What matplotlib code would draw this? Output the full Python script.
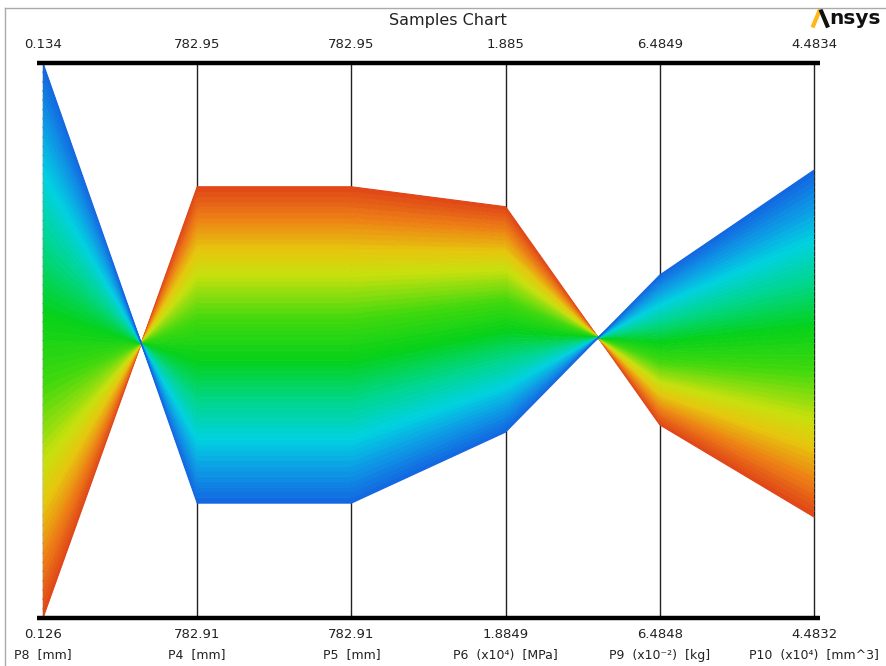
import numpy as np
import matplotlib
matplotlib.use("Agg")
import matplotlib.pyplot as plt
from matplotlib.colors import LinearSegmentedColormap
from matplotlib.lines import Line2D

# ---------------- data ----------------
axis_names = ["P8  [mm]", "P4  [mm]", "P5  [mm]", "P6  (x10\u2074)  [MPa]",
              "P9  (x10\u207b\u00b2)  [kg]", "P10  (x10\u2074)  [mm^3]"]
axis_min = [0.126, 782.91, 782.91, 1.8849, 6.4848, 4.4832]
axis_max = [0.134, 782.95, 782.95, 1.8850, 6.4849, 4.4834]
min_labels = ["0.126", "782.91", "782.91", "1.8849", "6.4848", "4.4832"]
max_labels = ["0.134", "782.95", "782.95", "1.885", "6.4849", "4.4834"]

p8 = [0.12600, 0.12613, 0.12627, 0.12640, 0.12653, 0.12667, 0.12680, 0.12693, 0.12707, 0.12720,
      0.12733, 0.12747, 0.12760, 0.12773, 0.12787, 0.12800, 0.12813, 0.12827, 0.12840, 0.12853,
      0.12867, 0.12880, 0.12893, 0.12907, 0.12920, 0.12933, 0.12947, 0.12960, 0.12973, 0.12987,
      0.13000, 0.13013, 0.13027, 0.13040, 0.13053, 0.13067, 0.13080, 0.13093, 0.13107, 0.13120,
      0.13133, 0.13147, 0.13160, 0.13173, 0.13187, 0.13200, 0.13213, 0.13227, 0.13240, 0.13253,
      0.13267, 0.13280, 0.13293, 0.13307, 0.13320, 0.13333, 0.13347, 0.13360, 0.13373, 0.13387,
      0.13400]
p4 = [782.94108, 782.94070, 782.94032, 782.93994, 782.93956, 782.93918, 782.93880, 782.93842,
      782.93804, 782.93766, 782.93728, 782.93690, 782.93652, 782.93614, 782.93576, 782.93538,
      782.93500, 782.93462, 782.93424, 782.93386, 782.93348, 782.93310, 782.93272, 782.93234,
      782.93196, 782.93158, 782.93120, 782.93082, 782.93044, 782.93006, 782.92968, 782.92930,
      782.92892, 782.92854, 782.92816, 782.92778, 782.92740, 782.92702, 782.92664, 782.92626,
      782.92588, 782.92550, 782.92512, 782.92474, 782.92436, 782.92398, 782.92360, 782.92322,
      782.92284, 782.92246, 782.92208, 782.92170, 782.92132, 782.92094, 782.92056, 782.92018,
      782.91980, 782.91942, 782.91904, 782.91866, 782.91828]
p5 = [782.94108, 782.94070, 782.94032, 782.93994, 782.93956, 782.93918, 782.93880, 782.93842,
      782.93804, 782.93766, 782.93728, 782.93690, 782.93652, 782.93614, 782.93576, 782.93538,
      782.93500, 782.93462, 782.93424, 782.93386, 782.93348, 782.93310, 782.93272, 782.93234,
      782.93196, 782.93158, 782.93120, 782.93082, 782.93044, 782.93006, 782.92968, 782.92930,
      782.92892, 782.92854, 782.92816, 782.92778, 782.92740, 782.92702, 782.92664, 782.92626,
      782.92588, 782.92550, 782.92512, 782.92474, 782.92436, 782.92398, 782.92360, 782.92322,
      782.92284, 782.92246, 782.92208, 782.92170, 782.92132, 782.92094, 782.92056, 782.92018,
      782.91980, 782.91942, 782.91904, 782.91866, 782.91828]
p6 = [1.8849741, 1.8849734, 1.8849727, 1.8849721, 1.8849714, 1.8849707, 1.8849700, 1.8849694,
      1.8849687, 1.8849680, 1.8849673, 1.8849667, 1.8849660, 1.8849653, 1.8849646, 1.8849640,
      1.8849633, 1.8849626, 1.8849619, 1.8849612, 1.8849606, 1.8849599, 1.8849592, 1.8849585,
      1.8849579, 1.8849572, 1.8849565, 1.8849558, 1.8849552, 1.8849545, 1.8849538, 1.8849531,
      1.8849525, 1.8849518, 1.8849511, 1.8849504, 1.8849497, 1.8849491, 1.8849484, 1.8849477,
      1.8849470, 1.8849464, 1.8849457, 1.8849450, 1.8849443, 1.8849437, 1.8849430, 1.8849423,
      1.8849416, 1.8849409, 1.8849403, 1.8849396, 1.8849389, 1.8849382, 1.8849376, 1.8849369,
      1.8849362, 1.8849355, 1.8849349, 1.8849342, 1.8849335]
p9 = [6.4848348, 6.4848353, 6.4848357, 6.4848362, 6.4848366, 6.4848371, 6.4848375, 6.4848380,
      6.4848384, 6.4848389, 6.4848393, 6.4848398, 6.4848402, 6.4848407, 6.4848411, 6.4848416,
      6.4848420, 6.4848425, 6.4848429, 6.4848434, 6.4848438, 6.4848443, 6.4848447, 6.4848452,
      6.4848456, 6.4848461, 6.4848465, 6.4848470, 6.4848474, 6.4848479, 6.4848483, 6.4848488,
      6.4848492, 6.4848497, 6.4848501, 6.4848506, 6.4848510, 6.4848515, 6.4848519, 6.4848524,
      6.4848528, 6.4848533, 6.4848537, 6.4848542, 6.4848546, 6.4848551, 6.4848555, 6.4848560,
      6.4848564, 6.4848569, 6.4848573, 6.4848578, 6.4848582, 6.4848587, 6.4848591, 6.4848596,
      6.4848600, 6.4848605, 6.4848609, 6.4848614, 6.4848618]
p10 = [4.4832364, 4.4832385, 4.4832406, 4.4832427, 4.4832447, 4.4832468, 4.4832489, 4.4832510,
       4.4832531, 4.4832552, 4.4832572, 4.4832593, 4.4832614, 4.4832635, 4.4832656, 4.4832677,
       4.4832697, 4.4832718, 4.4832739, 4.4832760, 4.4832781, 4.4832802, 4.4832822, 4.4832843,
       4.4832864, 4.4832885, 4.4832906, 4.4832927, 4.4832947, 4.4832968, 4.4832989, 4.4833010,
       4.4833031, 4.4833052, 4.4833072, 4.4833093, 4.4833114, 4.4833135, 4.4833156, 4.4833177,
       4.4833197, 4.4833218, 4.4833239, 4.4833260, 4.4833281, 4.4833302, 4.4833322, 4.4833343,
       4.4833364, 4.4833385, 4.4833406, 4.4833427, 4.4833447, 4.4833468, 4.4833489, 4.4833510,
       4.4833531, 4.4833552, 4.4833572, 4.4833593, 4.4833614]

# ---------------- styling ----------------
cmap = LinearSegmentedColormap.from_list("samples", [
    (0.00, (0.88, 0.27, 0.09)),
    (0.10, (0.93, 0.50, 0.08)),
    (0.20, (0.90, 0.78, 0.05)),
    (0.28, (0.78, 0.88, 0.05)),
    (0.42, (0.25, 0.85, 0.05)),
    (0.55, (0.02, 0.82, 0.10)),
    (0.68, (0.00, 0.84, 0.55)),
    (0.80, (0.00, 0.82, 0.88)),
    (0.90, (0.05, 0.60, 0.90)),
    (1.00, (0.07, 0.40, 0.88)),
])

W, H = 886, 666
fig = plt.figure(figsize=(W / 100, H / 100), dpi=100)
x0_px, x5_px = 43, 814
ytop_px, ybot_px = 63, 618
unit = (x5_px - x0_px) / 5.0
xlo, xhi = -0.04, 5.04
left_px = x0_px + xlo * unit
right_px = x0_px + xhi * unit
ax = fig.add_axes([left_px / W, (H - ybot_px) / H, (right_px - left_px) / W, (ybot_px - ytop_px) / H])
ax.set_xlim(xlo, xhi)
ax.set_ylim(0, 1)
ax.axis("off")

cols = [p8, p4, p5, p6, p9, p10]
norm = np.array([[(v - axis_min[j]) / (axis_max[j] - axis_min[j]) for v in cols[j]]
                 for j in range(len(cols))]).T  # samples x axes
n = norm.shape[0]
xs = np.arange(len(cols))

# vertical axis lines (behind data)
for j in xs:
    ax.plot([j, j], [0, 1], color="#222222", lw=1.0, zorder=1)

# sample bands and lines
for i in range(n - 1):
    c = cmap((i + 0.5) / (n - 1))
    px = np.concatenate([xs, xs[::-1]])
    py = np.concatenate([norm[i], norm[i + 1][::-1]])
    ax.fill(px, py, color=c, lw=0, zorder=2, antialiased=True)
for i in range(n):
    ax.plot(xs, norm[i], color=cmap(i / (n - 1)), lw=0.8, zorder=3)

# thick top / bottom lines
ax.plot([xlo, xhi], [1, 1], color="black", lw=3.2, solid_capstyle="butt", clip_on=False, zorder=5)
ax.plot([xlo, xhi], [0, 0], color="black", lw=3.2, solid_capstyle="butt", clip_on=False, zorder=5)

# labels
def ypx(p):
    return (ybot_px - p) / (ybot_px - ytop_px)

fs = 9.5
for j in xs:
    ax.text(j, ypx(44), max_labels[j], ha="center", va="center", fontsize=fs, color="#222222", clip_on=False)
    ax.text(j, ypx(635), min_labels[j], ha="center", va="center", fontsize=fs, color="#222222", clip_on=False)
    ax.text(j, ypx(655), axis_names[j], ha="center", va="center", fontsize=fs - 0.5, color="#222222", clip_on=False)

fig.text(448 / W, 1 - 20 / H, "Samples Chart", ha="center", va="center", fontsize=11.5, color="#222222")

# logo
fig.add_artist(Line2D([812.5 / W, 820 / W], [1 - 27.5 / H, 1 - 9.5 / H], color="#FFB71B", lw=3.0,
                      solid_capstyle="butt"))
fig.add_artist(Line2D([820.5 / W, 828 / W], [1 - 9.5 / H, 1 - 27.5 / H], color="#111111", lw=3.0,
                      solid_capstyle="butt"))
fig.text(829 / W, 1 - 19 / H, "nsys", ha="left", va="center", fontsize=14.5, fontweight="bold",
         color="#111111")

# frame of the picture
fig.add_artist(Line2D([5 / W, 5 / W], [0, 1 - 8 / H], color="#aaaaaa", lw=1.0))
fig.add_artist(Line2D([5 / W, 1], [1 - 8 / H, 1 - 8 / H], color="#aaaaaa", lw=1.0))

fig.savefig("out.png", dpi=100)
